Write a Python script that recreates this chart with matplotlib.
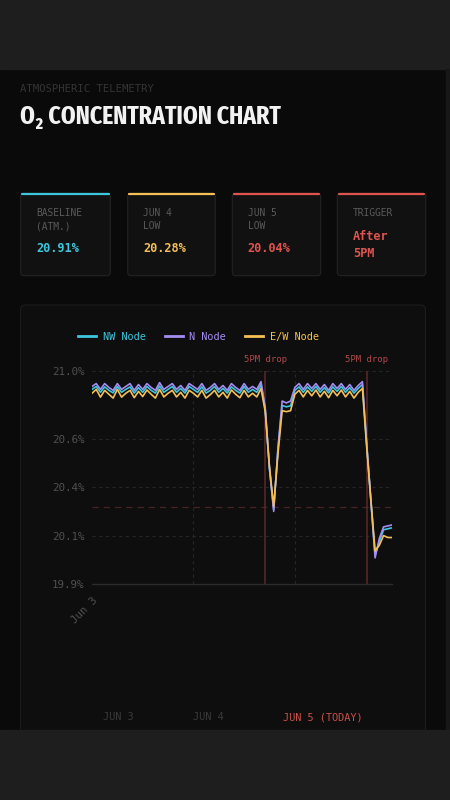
import matplotlib
matplotlib.use("Agg")
import matplotlib.pyplot as plt
from matplotlib import font_manager as fm
from matplotlib.patches import FancyBboxPatch, Rectangle
from matplotlib.ticker import FormatStrFormatter

# ---------------- data ----------------
HOURS = list(range(72))  # Jun 3 00:00 .. Jun 5 23:00

N_NODE = [20.920, 20.935, 20.905, 20.935, 20.915, 20.900, 20.935, 20.905, 20.920, 20.935,
          20.900, 20.930, 20.905, 20.935, 20.915, 20.900, 20.940, 20.905, 20.920, 20.935,
          20.905, 20.925, 20.900, 20.935, 20.920, 20.905, 20.935, 20.900, 20.915, 20.935,
          20.905, 20.925, 20.900, 20.935, 20.915, 20.900, 20.935, 20.905, 20.920, 20.905,
          20.945, 20.810, 20.500, 20.275, 20.600, 20.845, 20.835, 20.845, 20.915, 20.935,
          20.905, 20.935, 20.910, 20.935, 20.905, 20.930, 20.900, 20.935, 20.910, 20.935,
          20.905, 20.930, 20.900, 20.925, 20.945, 20.630, 20.330, 20.035, 20.135, 20.195,
          20.200, 20.205]

NW_NODE = [20.905, 20.920, 20.890, 20.918, 20.900, 20.887, 20.920, 20.890, 20.905, 20.918,
           20.886, 20.914, 20.890, 20.920, 20.900, 20.886, 20.923, 20.890, 20.905, 20.920,
           20.890, 20.910, 20.886, 20.920, 20.905, 20.890, 20.918, 20.886, 20.900, 20.920,
           20.890, 20.910, 20.886, 20.918, 20.900, 20.886, 20.920, 20.890, 20.905, 20.890,
           20.930, 20.800, 20.495, 20.285, 20.590, 20.822, 20.815, 20.820, 20.900, 20.918,
           20.890, 20.918, 20.895, 20.920, 20.890, 20.914, 20.886, 20.918, 20.895, 20.920,
           20.890, 20.914, 20.886, 20.910, 20.930, 20.625, 20.330, 20.050, 20.120, 20.180,
           20.185, 20.190]

EW_NODE = [20.885, 20.905, 20.865, 20.900, 20.880, 20.860, 20.905, 20.865, 20.885, 20.900,
           20.862, 20.895, 20.868, 20.902, 20.880, 20.860, 20.905, 20.866, 20.885, 20.900,
           20.866, 20.890, 20.860, 20.900, 20.885, 20.866, 20.900, 20.860, 20.878, 20.900,
           20.866, 20.890, 20.860, 20.902, 20.880, 20.862, 20.900, 20.866, 20.885, 20.866,
           20.910, 20.790, 20.505, 20.300, 20.570, 20.795, 20.790, 20.795, 20.880, 20.900,
           20.866, 20.900, 20.872, 20.902, 20.866, 20.895, 20.862, 20.900, 20.872, 20.902,
           20.866, 20.895, 20.860, 20.890, 20.910, 20.610, 20.335, 20.070, 20.100, 20.150,
           20.140, 20.140]

SERIES_NAMES = ["NW Node", "N Node", "E/W Node"]
DAY_TICKS = [0, 24, 48]
DAY_TICK_LABELS = ["Jun 3", "", ""]
Y_TICKS = [19.9, 20.15, 20.4, 20.65, 21.0]
Y_MIN, Y_MAX = 19.9, 21.0
DROP_HOURS = [41, 65]
DROP_LABEL = "5PM drop"
THRESHOLD = 20.3

KPI_LABELS = [["BASELINE", "(ATM.)"], ["JUN 4", "LOW"], ["JUN 5", "LOW"], ["TRIGGER"]]
KPI_VALUES = [["20.91%"], ["20.28%"], ["20.04%"], ["After", "5PM"]]
BOTTOM_LABELS = ["JUN 3", "JUN 4", "JUN 5 (TODAY)"]

# ---------------- fonts ----------------
MONO = ["DejaVu Sans Mono"]


def _stretch_rank(f, txt):
    t = txt.replace("-", "").replace(" ", "").replace("_", "")
    if "ultracondensed" in t or f.stretch == "ultra-condensed":
        return 1
    if "extracondensed" in t or f.stretch == "extra-condensed":
        return 0
    if "semicondensed" in t or f.stretch == "semi-condensed":
        return 3
    if "condensed" in t or "narrow" in t or f.stretch == "condensed":
        return 2
    return None


def pick_condensed_bold():
    best = None
    for f in fm.fontManager.ttflist:
        txt = (f.name + " " + f.fname).lower()
        if "mono" in txt or "italic" in txt or "oblique" in txt or f.style != "normal":
            continue
        if "serif" in txt and "sans" not in txt:
            continue
        rank = _stretch_rank(f, txt)
        if rank is None:
            continue
        w = f.weight if isinstance(f.weight, int) else fm.weight_dict.get(f.weight, 400)
        score = abs(w - 700) + 60 * rank
        if best is None or score < best[0]:
            best = (score, f)
    return best[1] if best else None


_cf = pick_condensed_bold()
if _cf is not None:
    TITLE_FP = fm.FontProperties(fname=_cf.fname, size=18.5)
else:
    TITLE_FP = fm.FontProperties(family="DejaVu Sans", weight="bold", size=14)

# ---------------- style ----------------
CYAN = "#3ec6dc"
PURPLE = "#a48cf2"
YELLOW = "#f4bf55"
RED = "#e0544f"
SERIES_COLORS = [CYAN, PURPLE, YELLOW]
KPI_COLORS = [CYAN, YELLOW, RED, RED]

fig = plt.figure(figsize=(4.5, 8), dpi=100)
fig.patch.set_facecolor("#0a0a0a")

# background / layout layer in pixel coordinates
bg = fig.add_axes([0, 0, 1, 1], zorder=0)
bg.set_xlim(0, 450)
bg.set_ylim(800, 0)
bg.axis("off")
bg.add_patch(Rectangle((0, 0), 450, 69, color="#1e1e1e", zorder=1))
bg.add_patch(Rectangle((446, 69), 4, 661, color="#171717", zorder=1))

bg.text(20, 89, "ATMOSPHERIC TELEMETRY", color="#343434", fontsize=7.6,
        family=MONO, va="center", ha="left")
bg.text(20, 116.5, "O₂ CONCENTRATION CHART", color="#f2f2f2",
        fontproperties=TITLE_FP, va="center", ha="left")

# KPI cards
card_x = [(20.7, 110.3), (127.7, 215.3), (232.3, 320.7), (337.3, 425.7)]
for (x0, x1), labels, values, col in zip(card_x, KPI_LABELS, KPI_VALUES, KPI_COLORS):
    bg.add_patch(FancyBboxPatch((x0, 193.3), x1 - x0, 82.4,
                                boxstyle="round,pad=0,rounding_size=3.5",
                                facecolor="#111111", edgecolor="#232323", lw=0.8, zorder=2))
    bg.plot([x0 + 1.5, x1 - 1.5], [194.2, 194.2], color=col, lw=1.6,
            solid_capstyle="round", zorder=3)
    yy = 213.3
    for lab in labels:
        bg.text(x0 + 15.5, yy, lab, color="#5a5a5a", fontsize=6.9, family=MONO,
                va="center", ha="left", zorder=4)
        yy += 12.8
    yy += 10
    for val in values:
        bg.text(x0 + 15.5, yy, val, color=col, fontsize=8.6, family=MONO,
                weight="bold", va="center", ha="left", zorder=4)
        yy += 17.6

# chart card
bg.add_patch(FancyBboxPatch((20.5, 305), 405, 440,
                            boxstyle="round,pad=0,rounding_size=5",
                            facecolor="#0e0e0e", edgecolor="#1c1c1c", lw=0.8, zorder=2))

# bottom day labels
bottom_x = [103.3, 193.3, 283.3]
bottom_cols = ["#3a3a3a", "#3a3a3a", "#c9504c"]
for bx, lab, c in zip(bottom_x, BOTTOM_LABELS, bottom_cols):
    bg.text(bx, 717, lab, color=c, fontsize=7.4, family=MONO, va="center",
            ha="left", zorder=4)

# bottom band covers the card bottom
bg.add_patch(Rectangle((0, 730), 450, 70, color="#1e1e1e", zorder=6))

# ---------------- chart ----------------
ax = fig.add_axes([92 / 450, 1 - 584 / 800, 300 / 450, 213 / 800], zorder=2)
ax.patch.set_alpha(0)
ax.set_xlim(HOURS[0], HOURS[-1])
ax.set_ylim(Y_MIN, Y_MAX)

for s in ["top", "right", "left"]:
    ax.spines[s].set_visible(False)
ax.spines["bottom"].set_color("#2c2c2c")
ax.spines["bottom"].set_linewidth(1.0)

ax.set_yticks(Y_TICKS)
ax.yaxis.set_major_formatter(FormatStrFormatter("%.1f%%"))
ax.set_xticks(DAY_TICKS)
ax.set_xticklabels(DAY_TICK_LABELS, rotation=45, ha="right", va="top",
                   rotation_mode="anchor")
ax.tick_params(axis="both", length=0, colors="#505050", labelsize=7.8)
ax.tick_params(axis="y", pad=5.5)
ax.tick_params(axis="x", pad=8)
for lab in ax.get_xticklabels() + ax.get_yticklabels():
    lab.set_family(MONO)

# grid
for yv in Y_TICKS[1:]:
    ax.axhline(yv, color="#262626", lw=0.8, ls=(0, (3, 3)), zorder=1)
for xv in DAY_TICKS[1:]:
    ax.axvline(xv, color="#262626", lw=0.8, ls=(0, (3, 3)), zorder=1)

# threshold
ax.axhline(THRESHOLD, color="#4a2424", lw=0.9, ls=(0, (5, 4)), zorder=1.5)

# drop markers
for dh in DROP_HOURS:
    ax.axvline(dh, color="#5e2828", lw=1.1, zorder=1.6)
    ax.annotate(DROP_LABEL, xy=(dh, Y_MAX), xytext=(0, 8.5),
                textcoords="offset points", ha="center", va="center",
                color="#b2474a", fontsize=6.5, family=MONO, annotation_clip=False)

series = [NW_NODE, N_NODE, EW_NODE]
for vals, name, col in zip(series, SERIES_NAMES, SERIES_COLORS):
    ax.plot(HOURS, vals, color=col, lw=1.2, label=name, zorder=3,
            solid_joinstyle="round")

leg = ax.legend(loc="center", bbox_to_anchor=(198.5 / 450, 1 - 336.7 / 800),
                bbox_transform=fig.transFigure, ncol=3, frameon=False,
                handlelength=1.75, handletextpad=0.6, columnspacing=1.9,
                prop={"family": MONO, "size": 7.4}, labelcolor="linecolor")
for h in leg.get_lines():
    h.set_linewidth(2.0)

fig.savefig("out.png", dpi=100, facecolor=fig.get_facecolor())
